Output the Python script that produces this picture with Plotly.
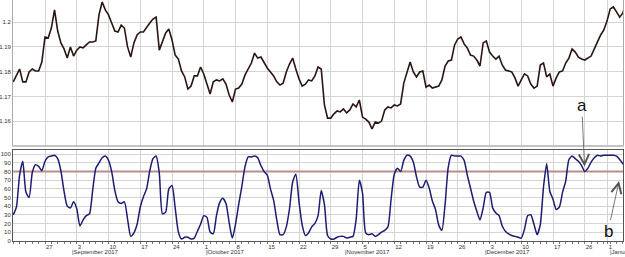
import plotly.graph_objects as go

# EUR/USD half-day samples (trading-day index, 0 = 21 Aug 2017)
price = [
1.1759,1.1787,1.1811,1.1759,1.1759,1.1799,1.1811,1.1803,1.1803,1.1839,
1.1940,1.1936,1.1976,1.2049,1.1964,1.1916,1.1892,1.1855,1.1900,1.1863,
1.1887,1.1900,1.1896,1.1908,1.1920,1.1920,1.1924,1.2029,1.2081,1.2049,
1.2029,1.1996,1.1964,1.1960,1.1988,1.1976,1.1900,1.1859,1.1916,1.1948,
1.1960,1.1960,1.1980,1.1996,1.2012,1.2020,1.1887,1.1924,1.1956,1.1972,
1.1928,1.1867,1.1851,1.1803,1.1779,1.1730,1.1742,1.1783,1.1783,1.1819,
1.1791,1.1750,1.1710,1.1759,1.1767,1.1763,1.1771,1.1750,1.1706,1.1678,
1.1730,1.1734,1.1750,1.1787,1.1811,1.1835,1.1875,1.1855,1.1859,1.1835,
1.1815,1.1799,1.1783,1.1759,1.1746,1.1754,1.1799,1.1831,1.1855,1.1811,
1.1771,1.1742,1.1750,1.1767,1.1763,1.1783,1.1819,1.1811,1.1666,1.1613,
1.1613,1.1630,1.1642,1.1638,1.1650,1.1634,1.1646,1.1670,1.1658,1.1686,
1.1617,1.1609,1.1597,1.1569,1.1597,1.1593,1.1601,1.1646,1.1658,1.1654,
1.1666,1.1662,1.1670,1.1754,1.1799,1.1839,1.1799,1.1779,1.1799,1.1803,
1.1738,1.1746,1.1734,1.1738,1.1742,1.1767,1.1823,1.1843,1.1847,1.1908,
1.1932,1.1940,1.1912,1.1896,1.1867,1.1863,1.1847,1.1823,1.1916,1.1924,
1.1879,1.1863,1.1851,1.1863,1.1827,1.1807,1.1803,1.1799,1.1775,1.1742,
1.1767,1.1791,1.1783,1.1750,1.1734,1.1742,1.1827,1.1835,1.1779,1.1791,
1.1742,1.1775,1.1799,1.1803,1.1835,1.1855,1.1892,1.1879,1.1859,1.1851,
1.1847,1.1855,1.1863,1.1892,1.1920,1.1948,1.1968,1.2004,1.2053,1.2061,
1.2041,1.2020,1.2037,1.2077]

osc = [
30,39,76,92,56,50,79,88,86,81,
92,97,98,99,95,81,57,40,38,45,
37,17,24,29,31,58,84,90,96,98,
93,80,58,45,43,45,25,5,9,19,
39,51,60,81,95,98,78,31,33,60,
64,38,10,2,4,4,2,3,11,19,
29,27,10,8,29,44,49,43,21,3,
19,42,63,86,97,97,98,96,87,80,
76,60,47,24,7,7,16,37,68,77,
45,18,6,9,16,20,29,58,42,6,
2,2,4,5,5,3,4,5,25,70,
55,9,7,8,5,7,10,12,16,48,
77,84,80,93,99,98,91,74,62,62,
70,61,46,36,18,12,42,85,99,98,
98,98,93,76,61,46,34,24,38,56,
56,38,32,29,17,11,8,6,5,4,
3,13,29,30,19,7,19,62,89,57,
48,36,39,56,69,94,98,95,92,87,
80,84,91,96,99,98,99,99,99,99,
98,94,89,85]

level = 80

days = [0.5 * i for i in range(len(price))]

price_ticks = [1.15, 1.16, 1.17, 1.18, 1.19, 1.2]
price_labels = ["1.15", "1.16", "1.17", "1.18", "1.19", "1.2"]
osc_ticks = [0, 10, 20, 30, 40, 50, 60, 70, 80, 90, 100]
osc_labels = [str(v) for v in osc_ticks]
week_ticks = [5, 10, 15, 20, 25, 30, 35, 40, 45, 50, 55, 60, 65, 70, 75, 80, 85, 90, 93.6]
week_labels = ["27", "3", "10", "17", "24", "1", "8", "15", "22", "29", "5", "12",
               "19", "26", "3", "10", "17", "26", "1"]
month_ticks = [9, 30, 52, 74, 93.6]
month_labels = ["September 2017", "October 2017", "November 2017", "December 2017", "January 2018"]

FONT = "Liberation Sans"
GRID = "#d4d4d4"

fig = go.Figure()
fig.add_trace(go.Scatter(x=days, y=price, mode="lines", xaxis="x", yaxis="y",
                         line=dict(color="#2a1512", width=1.6), showlegend=False))
fig.add_trace(go.Scatter(x=[days[0], days[-1]], y=[level, level], mode="lines",
                         xaxis="x2", yaxis="y2",
                         line=dict(color="#b98e8e", width=2), showlegend=False))
fig.add_trace(go.Scatter(x=days, y=osc, mode="lines", xaxis="x2", yaxis="y2",
                         line=dict(color="#1c1c72", width=1.5, shape="spline", smoothing=0.6),
                         showlegend=False))

xr = [-0.04, 96.02]
fig.update_layout(
    width=625, height=257,
    margin=dict(l=13, r=2, t=0, b=16),
    paper_bgcolor="white", plot_bgcolor="white",
    font=dict(family=FONT, size=6, color="#333"),
    xaxis=dict(domain=[0, 1], anchor="y", range=xr, tickmode="array",
               tickvals=week_ticks, showticklabels=False, ticks="",
               showgrid=True, gridcolor=GRID, gridwidth=1, zeroline=False,
               showline=True, linecolor="#c4c4c4", linewidth=2),
    yaxis=dict(domain=[0.39834, 1], anchor="x", range=[1.15046, 1.2089],
               tickmode="array", tickvals=price_ticks, ticktext=price_labels,
               showgrid=True, gridcolor=GRID, zeroline=False, ticks="",
               showline=True, linecolor="#aaaaaa", linewidth=1, mirror=True,
               tickfont=dict(size=6, color="#333")),
    xaxis2=dict(domain=[0, 1], anchor="y2", range=xr, tickmode="array",
                tickvals=week_ticks, ticktext=week_labels,
                ticks="outside", ticklen=2, tickcolor="#777",
                ticklabelposition="outside right",
                showgrid=True, gridcolor=GRID, zeroline=False,
                showline=True, linecolor="#555", linewidth=1, mirror=True,
                minor=dict(tickmode="linear", tick0=0, dtick=1, ticks="outside",
                           ticklen=2, tickcolor="#777", showgrid=False),
                tickfont=dict(size=6, color="#333")),
    yaxis2=dict(domain=[0, 0.37759], anchor="x2", range=[-0.35, 105],
                tickmode="array", tickvals=osc_ticks, ticktext=osc_labels,
                showgrid=True, gridcolor=GRID, zeroline=False, ticks="",
                showline=True, linecolor="#555", linewidth=1, mirror=True,
                tickfont=dict(size=6, color="#333")),
)

for t, lab in zip(month_ticks, month_labels):
    fig.add_annotation(x=t, y=0, xref="x2", yref="paper", yshift=-6,
                       text="|" + lab, showarrow=False, xanchor="left", yanchor="top",
                       font=dict(family=FONT, size=6, color="#333"))

# hand-drawn markers
fig.add_annotation(x=days[180], y=osc[180], xref="x2", yref="y2", text="a",
                   showarrow=True, ax=-3, ay=-66, arrowhead=5, arrowsize=2.5,
                   arrowwidth=0.8, arrowcolor="#555", standoff=5,
                   font=dict(family=FONT, size=17, color="#111"))
fig.add_annotation(x=95.4, y=69, xref="x2", yref="y2", text="b",
                   showarrow=True, ax=-11, ay=50, arrowhead=5, arrowsize=2.5,
                   arrowwidth=0.8, arrowcolor="#555",
                   font=dict(family=FONT, size=17, color="#111"))

fig.write_html("out.html")
